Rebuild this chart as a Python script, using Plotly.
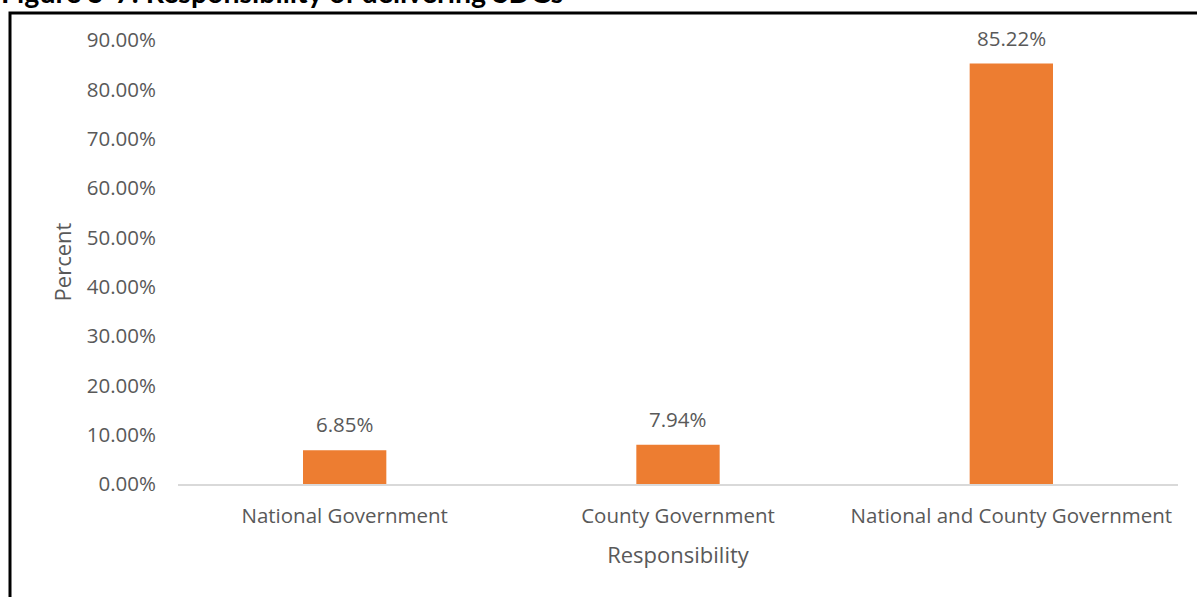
import plotly.graph_objects as go

categories = ["National Government", "County Government", "National and County Government"]
values = [0.0685, 0.0794, 0.8522]
y_ticks = [0.0, 0.1, 0.2, 0.3, 0.4, 0.5, 0.6, 0.7, 0.8, 0.9]

FONT = "Open Sans"
GREY = "#595959"

fig = go.Figure()
fig.add_trace(go.Bar(x=categories, y=values, marker=dict(color="#ED7D31", line=dict(width=0)),
                     hoverinfo="skip"))

for c, v in zip(categories, values):
    fig.add_annotation(x=c, y=v, text=f"{v*100:.2f}%", showarrow=False, yanchor="bottom",
                       yshift=10, font=dict(family=FONT, size=20.5, color=GREY))

# partially visible caption at top
fig.add_annotation(xref="paper", yref="paper", x=-0.179, y=1.107, xanchor="left", yanchor="middle",
                   text="<b>Figure 5-7: Responsibility of delivering SDGs</b>", showarrow=False,
                   font=dict(family="Lato", size=28.5, color="black"))

# outer frame
fig.add_shape(type="rect", xref="paper", yref="paper", x0=-0.168, x1=1.2, y0=-0.5, y1=1.0608,
              line=dict(color="black", width=3), fillcolor="rgba(0,0,0,0)")

fig.update_layout(
    width=1197, height=597,
    margin=dict(l=178, r=19, t=40, b=113),
    paper_bgcolor="white", plot_bgcolor="white",
    bargap=0.75,
    showlegend=False,
    font=dict(family=FONT, color=GREY),
    xaxis=dict(showline=True, linecolor="#d9d9d9", linewidth=2, ticks="", showgrid=False,
               tickfont=dict(size=20.5, color=GREY), ticklabelstandoff=12,
               title=dict(text="Responsibility", font=dict(size=22, color=GREY), standoff=20)),
    yaxis=dict(range=[0, 0.9], tickvals=y_ticks, tickformat=".2%", showgrid=False, zeroline=False,
               showline=False, ticks="", tickfont=dict(size=20.5, color=GREY), ticklabelstandoff=21,
               title=dict(text="Percent", font=dict(size=22, color=GREY), standoff=9)),
)

fig.write_html("out.html")
